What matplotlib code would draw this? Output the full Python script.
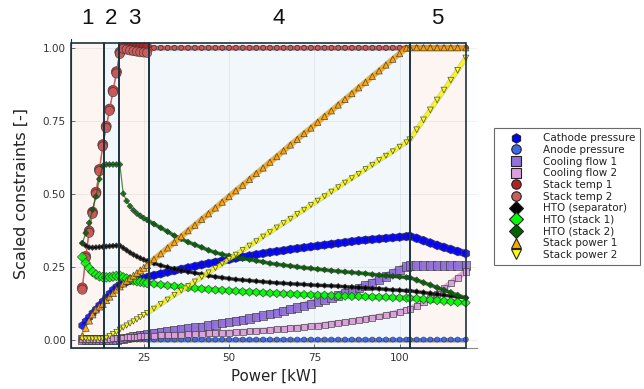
import numpy as np
import matplotlib.pyplot as plt
from matplotlib.lines import Line2D
from matplotlib.patches import Rectangle
import matplotlib.transforms as mtransforms

# power grid [kW]
power = [7, 8, 9, 10, 11, 12, 13, 14, 15, 16, 17, 18, 19, 20, 21, 22, 23, 24, 25, 26,
         28, 30, 32, 34, 36, 38, 40, 42, 44, 46, 48, 50, 52, 54, 56, 58, 60, 62, 64, 66,
         68, 70, 72, 74, 76, 78, 80, 82, 84, 86, 88, 90, 92, 94, 96, 98, 100, 102,
         103, 105, 107, 109, 111, 113, 115, 117, 119.4]

cathode_pressure = [0.048, 0.062, 0.076, 0.090, 0.103, 0.117, 0.130, 0.143, 0.157, 0.170, 0.180, 0.188, 0.193, 0.197, 0.201, 0.204, 0.207, 0.209, 0.211, 0.214,
                    0.220, 0.225, 0.231, 0.236, 0.241, 0.246, 0.251, 0.256, 0.261, 0.265, 0.270, 0.274, 0.279, 0.283, 0.287, 0.291, 0.295, 0.299, 0.302, 0.305,
                    0.309, 0.312, 0.315, 0.318, 0.321, 0.324, 0.327, 0.330, 0.333, 0.336, 0.339, 0.341, 0.343, 0.345, 0.347, 0.349, 0.351, 0.353,
                    0.354, 0.347, 0.339, 0.331, 0.323, 0.316, 0.309, 0.302, 0.295]

anode_pressure = [0.0, 0.0, 0.0, 0.0, 0.0, 0.0, 0.0, 0.0, 0.0, 0.0, 0.0, 0.0, 0.0, 0.0, 0.0, 0.0, 0.0, 0.0, 0.0, 0.0,
                  0.0, 0.0, 0.0, 0.0, 0.0, 0.0, 0.0, 0.0, 0.0, 0.0, 0.0, 0.0, 0.0, 0.0, 0.0, 0.0, 0.0, 0.0, 0.0, 0.0,
                  0.0, 0.0, 0.0, 0.0, 0.0, 0.0, 0.0, 0.0, 0.0, 0.0, 0.0, 0.0, 0.0, 0.0, 0.0, 0.0, 0.0, 0.0,
                  0.0, 0.0, 0.0, 0.0, 0.0, 0.0, 0.0, 0.0, 0.0]

cooling_flow_1 = [0.0, 0.0, 0.0, 0.0, 0.0, 0.0, 0.0, 0.0, 0.0, 0.0, 0.0, 0.002, 0.004, 0.006, 0.008, 0.010, 0.012, 0.014, 0.016, 0.019,
                  0.023, 0.026, 0.029, 0.032, 0.035, 0.038, 0.041, 0.044, 0.048, 0.052, 0.056, 0.060, 0.064, 0.068, 0.072, 0.077, 0.082, 0.087, 0.092, 0.098,
                  0.104, 0.110, 0.116, 0.123, 0.130, 0.137, 0.144, 0.151, 0.159, 0.167, 0.176, 0.185, 0.195, 0.205, 0.216, 0.227, 0.239, 0.250,
                  0.253, 0.253, 0.253, 0.253, 0.253, 0.253, 0.253, 0.253, 0.253]

cooling_flow_2 = [0.0, 0.0, 0.0, 0.0, 0.0, 0.0, 0.001, 0.002, 0.003, 0.004, 0.005, 0.006, 0.007, 0.008, 0.009, 0.010, 0.010, 0.011, 0.012, 0.012,
                  0.013, 0.014, 0.015, 0.016, 0.017, 0.018, 0.019, 0.020, 0.021, 0.022, 0.023, 0.024, 0.025, 0.027, 0.028, 0.030, 0.031, 0.033, 0.035, 0.037,
                  0.039, 0.041, 0.043, 0.046, 0.048, 0.051, 0.054, 0.057, 0.060, 0.063, 0.067, 0.071, 0.075, 0.079, 0.084, 0.089, 0.095, 0.101,
                  0.105, 0.116, 0.128, 0.141, 0.157, 0.175, 0.194, 0.212, 0.233]

stack_temp_1 = [0.177, 0.285, 0.372, 0.437, 0.505, 0.583, 0.668, 0.731, 0.790, 0.854, 0.918, 0.985, 1.0, 1.0, 1.0, 1.0, 1.0, 1.0, 1.0, 1.0,
                1.0, 1.0, 1.0, 1.0, 1.0, 1.0, 1.0, 1.0, 1.0, 1.0, 1.0, 1.0, 1.0, 1.0, 1.0, 1.0, 1.0, 1.0, 1.0, 1.0,
                1.0, 1.0, 1.0, 1.0, 1.0, 1.0, 1.0, 1.0, 1.0, 1.0, 1.0, 1.0, 1.0, 1.0, 1.0, 1.0, 1.0, 1.0,
                1.0, 1.0, 1.0, 1.0, 1.0, 1.0, 1.0, 1.0, 1.0]

stack_temp_2 = [0.171, 0.279, 0.366, 0.431, 0.499, 0.577, 0.662, 0.725, 0.784, 0.848, 0.912, 0.979, 0.997, 0.994, 0.991, 0.989, 0.987, 0.985, 0.984, 0.983,
                1.0, 1.0, 1.0, 1.0, 1.0, 1.0, 1.0, 1.0, 1.0, 1.0, 1.0, 1.0, 1.0, 1.0, 1.0, 1.0, 1.0, 1.0, 1.0, 1.0,
                1.0, 1.0, 1.0, 1.0, 1.0, 1.0, 1.0, 1.0, 1.0, 1.0, 1.0, 1.0, 1.0, 1.0, 1.0, 1.0, 1.0, 1.0,
                1.0, 1.0, 1.0, 1.0, 1.0, 1.0, 1.0, 1.0, 1.0]

hto_separator = [0.331, 0.322, 0.316, 0.315, 0.316, 0.317, 0.318, 0.319, 0.320, 0.321, 0.322, 0.322, 0.314, 0.306, 0.298, 0.291, 0.285, 0.279, 0.274, 0.269,
                 0.261, 0.254, 0.248, 0.242, 0.237, 0.232, 0.228, 0.224, 0.219, 0.215, 0.212, 0.209, 0.206, 0.204, 0.202, 0.200, 0.198, 0.196, 0.194, 0.193,
                 0.191, 0.190, 0.189, 0.187, 0.186, 0.185, 0.184, 0.183, 0.181, 0.180, 0.178, 0.177, 0.175, 0.174, 0.172, 0.170, 0.169, 0.167,
                 0.167, 0.164, 0.161, 0.158, 0.155, 0.152, 0.149, 0.146, 0.143]

hto_stack_1 = [0.283, 0.262, 0.245, 0.232, 0.223, 0.217, 0.214, 0.213, 0.214, 0.216, 0.218, 0.219, 0.213, 0.209, 0.206, 0.203, 0.200, 0.198, 0.196, 0.194,
               0.191, 0.188, 0.185, 0.183, 0.180, 0.178, 0.176, 0.174, 0.172, 0.170, 0.169, 0.167, 0.166, 0.164, 0.163, 0.162, 0.160, 0.159, 0.158, 0.157,
               0.156, 0.155, 0.154, 0.153, 0.152, 0.152, 0.151, 0.150, 0.149, 0.148, 0.148, 0.147, 0.146, 0.145, 0.145, 0.144, 0.143, 0.142,
               0.142, 0.140, 0.138, 0.136, 0.134, 0.132, 0.130, 0.128, 0.126]

hto_stack_2 = [0.330, 0.365, 0.400, 0.445, 0.490, 0.550, 0.595, 0.600, 0.600, 0.600, 0.600, 0.600, 0.500, 0.475, 0.457, 0.443, 0.432, 0.424, 0.416, 0.410,
               0.396, 0.383, 0.370, 0.356, 0.345, 0.334, 0.325, 0.316, 0.306, 0.298, 0.292, 0.287, 0.282, 0.278, 0.274, 0.270, 0.266, 0.261, 0.258, 0.255,
               0.252, 0.249, 0.246, 0.244, 0.241, 0.239, 0.236, 0.234, 0.232, 0.230, 0.228, 0.226, 0.223, 0.221, 0.219, 0.217, 0.215, 0.213,
               0.212, 0.204, 0.195, 0.187, 0.178, 0.170, 0.161, 0.152, 0.143]

stack_power_1 = [0.012, 0.040, 0.065, 0.086, 0.103, 0.113, 0.122, 0.135, 0.147, 0.159, 0.171, 0.182, 0.192, 0.201, 0.210, 0.219, 0.228, 0.237, 0.246, 0.255,
                 0.275, 0.294, 0.314, 0.333, 0.353, 0.373, 0.392, 0.412, 0.431, 0.451, 0.471, 0.490, 0.510, 0.529, 0.549, 0.569, 0.588, 0.608, 0.627, 0.647,
                 0.667, 0.686, 0.706, 0.725, 0.745, 0.765, 0.784, 0.804, 0.823, 0.843, 0.863, 0.882, 0.902, 0.921, 0.941, 0.961, 0.980, 0.999,
                 1.0, 1.0, 1.0, 1.0, 1.0, 1.0, 1.0, 1.0, 1.0]

stack_power_2 = [0.003, 0.003, 0.003, 0.003, 0.003, 0.003, 0.003, 0.006, 0.012, 0.019, 0.026, 0.034, 0.041, 0.048, 0.055, 0.062, 0.069, 0.077, 0.084, 0.091,
                 0.106, 0.122, 0.137, 0.153, 0.168, 0.183, 0.199, 0.214, 0.230, 0.245, 0.260, 0.276, 0.291, 0.307, 0.322, 0.337, 0.353, 0.368, 0.384, 0.399,
                 0.414, 0.430, 0.445, 0.461, 0.476, 0.491, 0.507, 0.522, 0.538, 0.553, 0.568, 0.584, 0.599, 0.615, 0.630, 0.645, 0.661, 0.676,
                 0.685, 0.719, 0.753, 0.787, 0.821, 0.855, 0.889, 0.923, 0.965]

# operating regions [kW]
region_edges = [3.6, 13.3, 17.7, 26.5, 102.9, 119.4]
region_names = ['1', '2', '3', '4', '5']

# label, values, marker, colour, marker size (regions 1-3, 4, 5)
series = [
    ('Cathode pressure', cathode_pressure, 'h', '#0000ff', (5.8, 6.2, 6.4)),
    ('Anode pressure', anode_pressure, 'o', '#4169e1', (3.6, 3.6, 3.6)),
    ('Cooling flow 1', cooling_flow_1, 's', '#9370db', (6.0, 6.0, 6.2)),
    ('Cooling flow 2', cooling_flow_2, 's', '#dda0dd', (4.2, 4.3, 4.5)),
    ('Stack temp 1', stack_temp_1, 'o', '#b22222', (7.2, 3.6, 3.8)),
    ('Stack temp 2', stack_temp_2, 'o', '#cd5c5c', (6.6, 3.4, 3.6)),
    ('HTO (separator)', hto_separator, 'D', '#000000', (2.8, 2.8, 3.0)),
    ('HTO (stack 1)', hto_stack_1, 'D', '#00ff00', (5.0, 4.3, 4.5)),
    ('HTO (stack 2)', hto_stack_2, 'D', '#006400', (3.0, 3.0, 3.2)),
    ('Stack power 1', stack_power_1, '^', '#ffa500', (5.0, 4.5, 4.5)),
    ('Stack power 2', stack_power_2, 'v', '#ffff00', (3.8, 3.6, 4.2)),
]

fig = plt.figure(figsize=(6.44, 3.89), dpi=100)
ax = fig.add_axes([0.1098, 0.1046, 0.631, 0.795])

fills = ['#fcf5f1', '#f2f7fb', '#fcf5f1', '#f2f7fb', '#fcf5f1']
for i in range(5):
    a, b = region_edges[i], region_edges[i + 1]
    ax.add_patch(Rectangle((a, -0.03), b - a, 1.048, facecolor=fills[i],
                           edgecolor='none', zorder=0.2))
    ax.add_patch(Rectangle((a, -0.03), b - a, 1.048, facecolor='none',
                           edgecolor='#1c3240', lw=1.2, zorder=10, clip_on=False))

pw = np.array(power)
wide = pw >= 26
for k, (lab, vals, mk, col, ms) in enumerate(series):
    z = 2 + k * 0.5
    v = np.array(vals)
    ax.plot(pw, v, color=col, lw=0.9, alpha=0.7, zorder=z)
    # dense marker band in regions 4 and 5
    ax.plot(pw[wide], v[wide], color=col, lw=ms[1] * 0.8, alpha=0.75,
            solid_capstyle='butt', zorder=z)
    ax.plot(pw[wide], v[wide], color='#333333', lw=ms[1] * 0.8 + 0.8, alpha=0.25,
            solid_capstyle='butt', zorder=z - 0.05)
    size = np.where(pw < 26.5, ms[0], np.where(pw > 102.9, ms[2], ms[1]))
    ax.scatter(pw, v, s=size ** 2, marker=mk, c=col, edgecolors='#333333',
               linewidths=0.5, alpha=0.85, zorder=z + 0.1)

ax.set_xlim(3.6, 122.7)
ax.set_ylim(-0.03, 1.03)
ax.set_xticks([25, 50, 75, 100])
ax.set_yticks([0, 0.25, 0.5, 0.75, 1.0])
ax.set_yticklabels(['0.00', '0.25', '0.50', '0.75', '1.00'])
ax.tick_params(direction='in', length=3, width=0.6, colors='#555555',
               labelcolor='#333333', labelsize=7.5)
ax.grid(True, color='#000000', alpha=0.07, lw=0.6)
ax.set_axisbelow(True)
for s in ['top', 'right']:
    ax.spines[s].set_visible(False)
ax.spines['bottom'].set_color('#888888')
ax.spines['left'].set_color('#1c3240')

ax.set_xlabel('Power [kW]', fontsize=10.8, color='#222222', labelpad=4)
ax.set_ylabel('Scaled constraints [-]', fontsize=11.5, color='#222222', labelpad=10)

trans = mtransforms.blended_transform_factory(ax.transData, ax.transAxes)
for i, name in enumerate(region_names):
    xc = (region_edges[i] + region_edges[i + 1]) / 2
    ax.text(xc, 1.068, name, transform=trans, ha='center', va='center',
            fontsize=16, family='Liberation Sans', color='#111111')

handles = [Line2D([], [], ls='none', marker=mk, markersize=6.8, markerfacecolor=col,
                  markeredgecolor='#222222', markeredgewidth=0.8)
           for lab, vals, mk, col, ms in series]
labels = [s[0] for s in series]
leg = fig.legend(handles, labels, loc='upper left', bbox_to_anchor=(0.767, 0.671),
                 frameon=True, fancybox=False, edgecolor='#444444', fontsize=7.5,
                 handlelength=3.2, handletextpad=1.0, borderpad=0.5,
                 labelspacing=0.16, borderaxespad=0)
leg.get_frame().set_linewidth(0.8)
for t in leg.get_texts():
    t.set_color('#222222')

fig.savefig('out.png', dpi=100)
